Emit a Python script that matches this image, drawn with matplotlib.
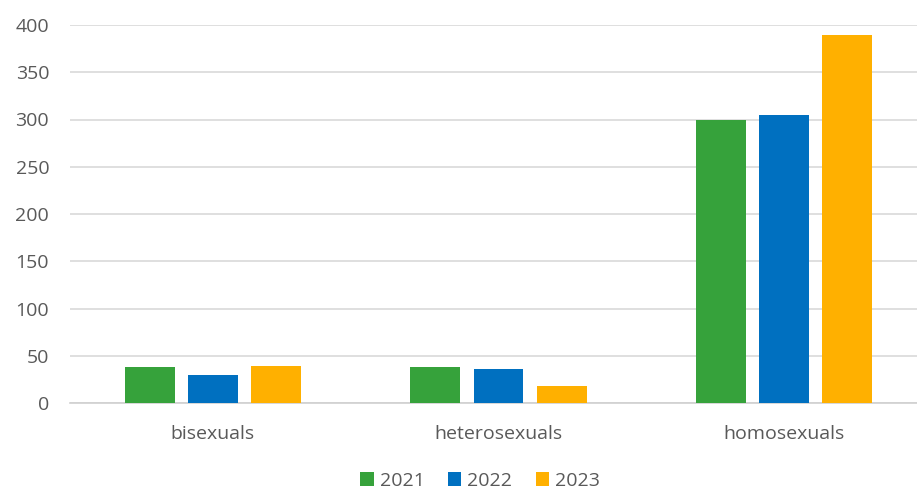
import matplotlib
matplotlib.use("Agg")
import matplotlib.pyplot as plt
import numpy as np

categories = ["bisexuals", "heterosexuals", "homosexuals"]
years = ["2021", "2022", "2023"]
v2021 = [38, 38, 299]
v2022 = [30, 36, 305]
v2023 = [39, 18, 389]
colors = ["#36a23b", "#0070c0", "#ffb000"]

plt.rcParams['font.family'] = ['Open Sans', 'DejaVu Sans']
W, H = 917, 493
fig = plt.figure(figsize=(W/100, H/100), dpi=100)
ax = fig.add_axes([70/W, 1-403/H, (917-70)/W, (403-25)/H])

x = np.arange(len(categories))
bw = 0.175
off = 0.2207
for i, (vals, c, lab) in enumerate(zip([v2021, v2022, v2023], colors, years)):
    ax.bar(x + (i-1)*off, vals, width=bw, color=c, label=lab, zorder=3)

ax.set_xlim(-0.5, 2.465)
ax.set_ylim(0, 400)
ax.set_yticks(range(0, 401, 50))
ax.grid(axis='y', color='#d9d9d9', linewidth=1.2, zorder=0)
for s in ['top', 'right', 'left']:
    ax.spines[s].set_visible(False)
ax.spines['bottom'].set_color('#d0d0d0')
ax.spines['bottom'].set_linewidth(1.2)
ax.set_xticks(x)
ax.set_xticklabels(categories)
ax.tick_params(axis='both', length=0, labelsize=14, colors='#595959')
ax.tick_params(axis='y', pad=15)
ax.tick_params(axis='x', pad=16)

leg = fig.legend(loc='center', bbox_to_anchor=(480/W, 1-481/H), ncol=3, frameon=False,
                 fontsize=14, handlelength=0.7, handleheight=0.7, handletextpad=0.3,
                 columnspacing=1.2, borderpad=0.2)
for t in leg.get_texts():
    t.set_color('#595959')

fig.savefig("out.png", dpi=100)
